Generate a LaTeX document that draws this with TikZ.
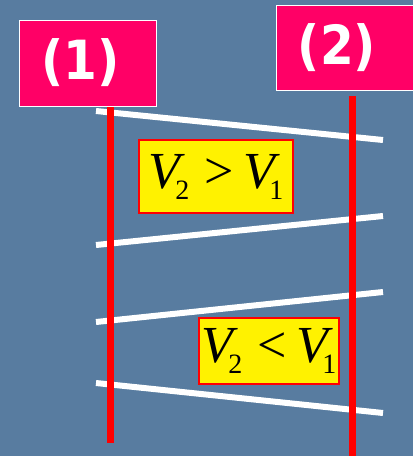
\documentclass[tikz,border=0pt]{standalone}
\usepackage{fontspec}
\newfontfamily\tnr{Liberation Serif}
\newfontfamily\lblfont{DejaVu Sans Condensed}
\definecolor{bgblue}{RGB}{88,124,160}
\definecolor{pinkbox}{RGB}{255,0,102}
\newcommand{\vexpr}[1]{{\fontsize{52}{54}\selectfont\tnr\itshape V\kern-5pt\raisebox{-11pt}{\fontsize{28}{28}\selectfont\upshape 2}\hspace{15pt}\upshape #1\hspace{10pt}\itshape V\kern-6pt\raisebox{-11pt}{\fontsize{28}{28}\selectfont\upshape 1}}}
\begin{document}
\begin{tikzpicture}[x=1pt,y=-1pt,
  labelbox/.style={draw=white, line width=1pt, fill=pinkbox, inner sep=0pt,
    minimum width=137pt, minimum height=86pt, text=white,
    font=\fontsize{54}{56}\selectfont\lblfont\bfseries},
  condbox/.style={draw=red, line width=1.5pt, fill=yellow, inner sep=0pt},
  redline/.style={draw=red, line width=7pt},
  whiteline/.style={draw=white, line width=6pt}]
\fill[bgblue] (0,0) rectangle (413,456);
\useasboundingbox (0,0) rectangle (413,456);
% coordinates
\coordinate (r1t) at (110.5,107);
\coordinate (r1b) at (110.5,443);
\coordinate (r2t) at (352,96);
\coordinate (r2b) at (352,456);
\coordinate (a1) at (96,111);   \coordinate (b1) at (383,140);
\coordinate (a2) at (96,245);   \coordinate (b2) at (383,216);
\coordinate (a3) at (96,322);   \coordinate (b3) at (383,292);
\coordinate (a4) at (96,383);   \coordinate (b4) at (383,413);
% white signals
\draw[whiteline] (a1) -- (b1);
\draw[whiteline] (a2) -- (b2);
\draw[whiteline] (a3) -- (b3);
\draw[whiteline] (a4) -- (b4);
% red timelines
\draw[redline] (r1t) -- (r1b);
\draw[redline] (r2t) -- (r2b);
% labels
\node[labelbox] (p1) at (87.5,63) {\hspace*{-14pt}\raisebox{-5pt}{(1)}};
\node[labelbox, minimum height=85pt] (p2) at (344.5,47.5) {\hspace*{-15pt}\raisebox{-4pt}{(2)}};
% condition boxes
\node[condbox, minimum width=154pt, minimum height=73pt] (c1) at (216,176.5) {\raisebox{2pt}{\vexpr{>}}};
\node[condbox, minimum width=140pt, minimum height=66pt] (c2) at (269,351) {\raisebox{2pt}{\vexpr{<}}};
\end{tikzpicture}
\end{document}
